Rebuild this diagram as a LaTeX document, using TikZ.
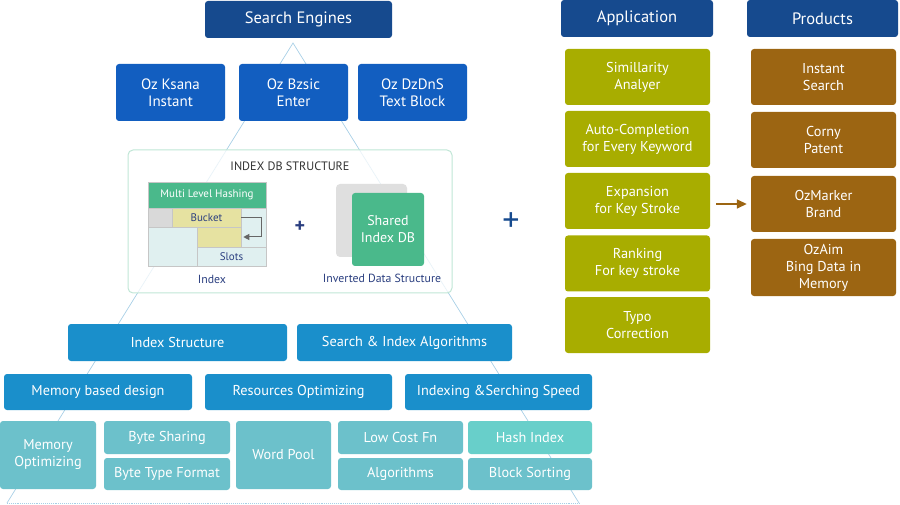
\documentclass[tikz,border=0pt]{standalone}
\usepackage{fontspec}
\setmainfont{PT Sans}
\usetikzlibrary{arrows.meta}
\definecolor{headblue}{HTML}{164A8E}
\definecolor{ozblue}{HTML}{125EC0}
\definecolor{midblue}{HTML}{1A8FCB}
\definecolor{lowteal}{HTML}{6CC1CB}
\definecolor{hashteal}{HTML}{68CFCA}
\definecolor{appolive}{HTML}{A8AD00}
\definecolor{prodbrown}{HTML}{9C6512}
\definecolor{triline}{HTML}{A8CFE6}
\definecolor{dbgreen}{HTML}{4AB98B}
\definecolor{navytext}{HTML}{2B3F80}
\tikzset{
  box/.style={rounded corners=3pt, text=white, align=center, inner sep=0pt},
  cell/.style={draw=gray!45, line width=0.6pt, inner sep=0pt, text=navytext, font=\fontsize{11}{13}\selectfont},
  big/.style={font=\fontsize{16.5}{19}\selectfont},
  mid/.style={font=\fontsize{15}{17}\selectfont},
  small/.style={font=\fontsize{14.3}{17}\selectfont}
}
\begin{document}
\begin{tikzpicture}[x=1pt,y=-1pt]
\useasboundingbox (0,0) rectangle (900,505);
\coordinate (apex) at (293,43);
\coordinate (bl) at (7,503);
\coordinate (br) at (579,503);
\draw[triline, line width=0.7pt] (bl) -- (apex) -- (br);
\draw[triline, line width=0.9pt, densely dotted] (bl) -- (br);
\node[box, big, fill=headblue, minimum width=187pt, minimum height=37pt] (se) at (298.5,19.5) {Search Engines};
\node[box, mid, fill=ozblue, minimum width=109pt, minimum height=57pt] (ozk) at (170.5,92.5) {Oz Ksana\\Instant};
\node[box, mid, fill=ozblue, minimum width=109pt, minimum height=57pt] (ozb) at (293.5,92.5) {Oz Bzsic\\Enter};
\node[box, mid, fill=ozblue, minimum width=109pt, minimum height=57pt] (ozd) at (412.5,92.5) {Oz DzDnS\\Text Block};
\node[rounded corners=5pt, draw=dbgreen!35, line width=1pt, fill=white, fill opacity=0.75, minimum width=324pt, minimum height=143pt] (panel) at (290,221.5) {};
\node[text=black!80, font=\fontsize{12.2}{14}\selectfont] (title) at (290,166) {INDEX DB STRUCTURE};
\node[cell, fill=dbgreen, text=white, minimum width=118pt, minimum height=26pt] (mlh) at (207,195) {Multi Level Hashing};
\node[cell, fill=gray!30, minimum width=24pt, minimum height=19pt] (gcell) at (160,217.5) {};
\node[cell, fill=yellow!25!olive!30, minimum width=69pt, minimum height=19pt] (bucket) at (206.5,217.5) {Bucket};
\node[cell, fill=teal!12, minimum width=25pt, minimum height=39pt] (rcell) at (253.5,227.5) {};
\node[cell, fill=teal!12, minimum width=49pt, minimum height=39pt] (lcell) at (172.5,246.5) {};
\node[cell, fill=yellow!25!olive!30, minimum width=44pt, minimum height=20pt] (ycell) at (219,237) {};
\node[cell, fill=teal!12, minimum width=69pt, minimum height=19pt] (slots) at (231.5,256.5) {Slots};
\node[text=navytext, font=\fontsize{11.8}{13}\selectfont] (idx) at (212,279) {Index};
\node[text=navytext, font=\bfseries\fontsize{20}{20}\selectfont] (plusa) at (300,227) {+};
\node[rounded corners=4pt, fill=gray!25, minimum width=71pt, minimum height=73pt] (back) at (371.5,220.5) {};
\node[box, fill=dbgreen, font=\fontsize{14}{17}\selectfont, minimum width=72pt, minimum height=73pt] (shared) at (388,229.5) {Shared\\Index DB};
\node[text=navytext, font=\fontsize{11.8}{13}\selectfont] (inv) at (382,278) {Inverted Data Structure};
\node[text=headblue, font=\fontsize{34}{34}\selectfont] (plusb) at (511,222) {+};
\node[box, small, fill=midblue, minimum width=219pt, minimum height=37pt] (istr) at (177.5,342.5) {Index Structure};
\node[box, small, fill=midblue, minimum width=215pt, minimum height=37pt] (sia) at (404.5,342.5) {Search \& Index Algorithms};
\node[box, small, fill=midblue, minimum width=188pt, minimum height=36pt] (mbd) at (98,392) {Memory based design};
\node[box, small, fill=midblue, minimum width=187pt, minimum height=36pt] (ropt) at (298.5,392) {Resources Optimizing};
\node[box, small, fill=midblue, minimum width=187pt, minimum height=36pt] (iss) at (498.5,392) {Indexing \&Serching Speed};
\node[box, small, fill=lowteal, minimum width=96pt, minimum height=68pt] (mopt) at (48,455) {Memory\\Optimizing};
\node[box, small, fill=lowteal, minimum width=126pt, minimum height=33pt] (bsh) at (167,437.5) {Byte Sharing};
\node[box, small, fill=lowteal, minimum width=126pt, minimum height=32pt] (btf) at (167,474) {Byte Type Format};
\node[box, small, fill=lowteal, minimum width=95pt, minimum height=68pt] (wp) at (283.5,455) {Word Pool};
\node[box, small, fill=lowteal, minimum width=125pt, minimum height=33pt] (lcf) at (400.5,437.5) {Low Cost Fn};
\node[box, small, fill=lowteal, minimum width=125pt, minimum height=32pt] (alg) at (400.5,474) {Algorithms};
\node[box, small, fill=hashteal, minimum width=124pt, minimum height=33pt] (hidx) at (530,437.5) {Hash Index};
\node[box, small, fill=lowteal, minimum width=124pt, minimum height=32pt] (bsort) at (530,474) {Block Sorting};
\node[box, big, fill=headblue, minimum width=152pt, minimum height=37pt] (app) at (637,18.5) {Application};
\node[box, big, fill=headblue, minimum width=151pt, minimum height=37pt] (prod) at (822.5,18.5) {Products};
\node[box, small, fill=appolive, minimum width=145pt, minimum height=56pt] (sim) at (637.5,77) {Simillarity\\Analyer};
\node[box, small, fill=appolive, minimum width=145pt, minimum height=56pt] (auto) at (637.5,139) {Auto-Completion\\for Every Keyword};
\node[box, small, fill=appolive, minimum width=145pt, minimum height=56pt] (exp) at (637.5,201) {Expansion\\for Key Stroke};
\node[box, small, fill=appolive, minimum width=145pt, minimum height=56pt] (rank) at (637.5,263.5) {Ranking\\For key stroke};
\node[box, small, fill=appolive, minimum width=145pt, minimum height=56pt] (typo) at (637.5,325) {Typo\\Correction};
\node[box, small, fill=prodbrown, minimum width=145pt, minimum height=56pt] (inst) at (823.5,77) {Instant\\Search};
\node[box, small, fill=prodbrown, minimum width=145pt, minimum height=56pt] (corny) at (823.5,140) {Corny\\Patent};
\node[box, small, fill=prodbrown, minimum width=145pt, minimum height=56pt] (ozm) at (823.5,204) {OzMarker\\Brand};
\node[box, small, fill=prodbrown, minimum width=145pt, minimum height=57pt] (ozaim) at (823.5,267.5) {OzAim\\Bing Data in\\Memory};
\draw[-{Triangle[length=6pt,width=6pt]}, gray!80!black, line width=1pt] (bucket.east) -- ++(20,0) |- ([xshift=2pt]ycell.east);
\draw[-{Triangle[length=10pt,width=9pt]}, prodbrown, line width=1.5pt, shorten <=6pt, shorten >=4pt] (ozm.west -| exp.east) -- (ozm.west);
\end{tikzpicture}
\end{document}
